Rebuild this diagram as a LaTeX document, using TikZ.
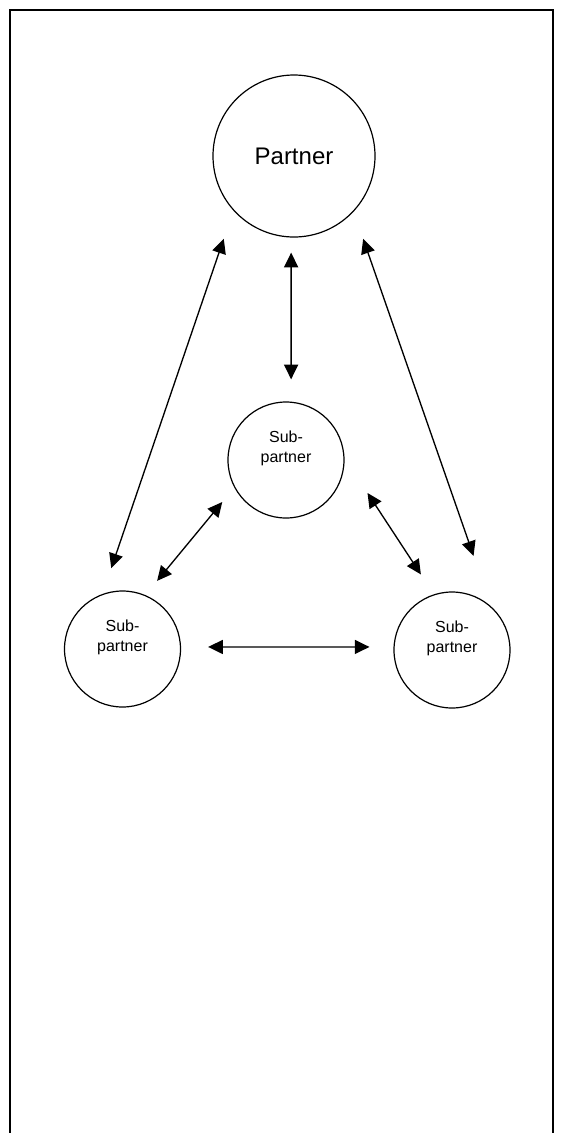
\documentclass[tikz,border=0pt]{standalone}
\usepackage{fontspec}
\setmainfont{Liberation Sans}
\usetikzlibrary{arrows.meta}

\begin{document}
\begin{tikzpicture}[x=0.75pt,y=0.75pt]
\tikzstyle{every node}+=[inner sep=0pt]
\tikzstyle{bignode}=[draw=black, circle, line width=0.9pt, minimum size=121.5pt, font=\fontsize{18}{21.6}\selectfont]
\tikzstyle{subnode}=[draw=black, circle, line width=0.9pt, minimum size=87pt]
\tikzstyle{subtext}=[align=center, font=\fontsize{12}{15}\selectfont]
\tikzstyle{link}=[black, line width=1pt, {Triangle[width=10.5pt,length=11pt]}-{Triangle[width=10.5pt,length=11pt]}]
\useasboundingbox (0,0) rectangle (563,-1133);
\draw [black, line width=1.5pt] (10,-1133) -- (10,-9.5) -- (553,-9.5) -- (553,-1133);
\node [bignode] (partner) at (294,-156) {Partner};
\node [subnode] (subc) at (286,-460) {};
\node [subtext] (subctext) at ([yshift=9pt]subc) {Sub-\\partner};
\node [subnode] (subl) at (122.5,-649) {};
\node [subtext] (subltext) at ([yshift=9pt]subl) {Sub-\\partner};
\node [subnode] (subr) at (452,-650) {};
\node [subtext] (subrtext) at ([yshift=9pt]subr) {Sub-\\partner};
\draw [link, shorten <=11.3pt, shorten >=16.7pt] (partner.-92) -- (subc.85);
\draw [link, shorten <=22.3pt, shorten >=20.4pt] (partner.-138) -- (subl.110);
\draw [link, shorten <=21.6pt, shorten >=40.2pt] (partner.-43) -- (subr.48);
\draw [link, shorten <=14.1pt, shorten >=13.8pt] (subc.-152) -- (subl.67);
\draw [link, shorten <=31.4pt, shorten >=17.8pt] (subc.2) -- (subr.108);
\draw [link, shorten <=20.3pt, shorten >=18pt] (subl.2) -- (subr.177);
\end{tikzpicture}
\end{document}
